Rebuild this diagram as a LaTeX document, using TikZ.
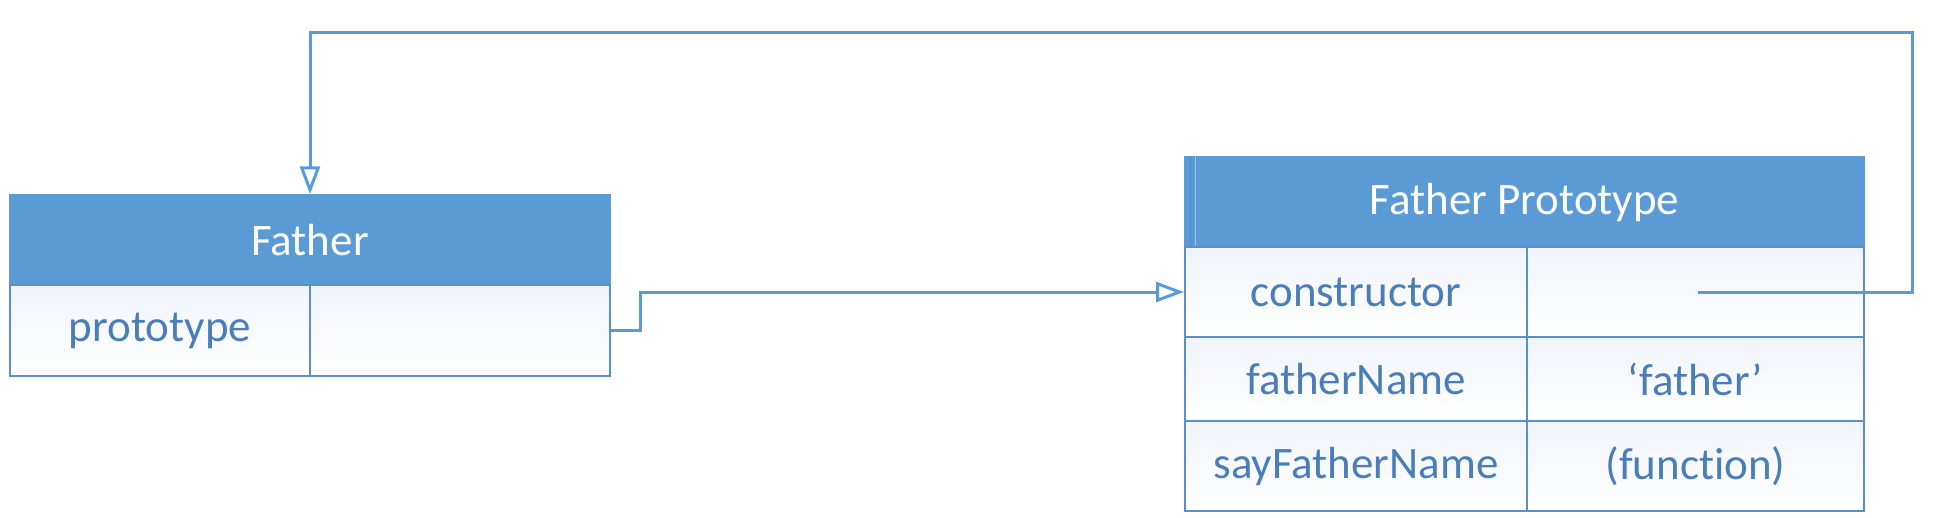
\documentclass[tikz,border=0pt]{standalone}
\usepackage{fontspec}
\setmainfont{Carlito}[Ligatures=NoCommon]
\usetikzlibrary{arrows.meta}
\definecolor{hdr}{HTML}{5B9BD5}
\definecolor{hdrdark}{HTML}{4F8CC9}
\definecolor{hdrlight}{HTML}{9DC3E6}
\definecolor{brd}{HTML}{5B8FC8}
\definecolor{txt}{HTML}{4A7EBB}
\definecolor{cellA}{HTML}{F0F4FA}
\tikzset{
  hdrbox/.style={rectangle, fill=hdr, draw=hdr, line width=1.5pt, inner sep=0pt,
    text=white, font=\fontsize{45}{54}\selectfont},
  cellbox/.style={rectangle, draw=brd, line width=2pt, inner sep=0pt,
    top color=cellA, bottom color=white, text=txt, font=\fontsize{45}{54}\selectfont},
  conn/.style={draw=hdr, line width=3pt,
    -{Triangle[open, length=28pt, width=20pt, line width=3pt]}}
}
\begin{document}
\begin{tikzpicture}[x=1pt,y=-1pt]
\useasboundingbox (0,0) rectangle (1945,517);
% Father
\node[hdrbox, minimum width=600pt, minimum height=90pt] (fh) at (310,240) {Father};
\node[cellbox, minimum width=300pt, minimum height=91pt] (fp) at (160,330.5) {prototype};
\node[cellbox, minimum width=300pt, minimum height=91pt] (fpv) at (460,330.5) {};
% Father Prototype
\node[hdrbox, minimum width=679pt, minimum height=90pt] (ph) at (1524.5,202) {Father Prototype};
\draw[hdrdark, line width=1.5pt] ([xshift=6pt]ph.north west) -- ([xshift=6pt]ph.south west);
\draw[hdrlight, line width=1.5pt] ([xshift=11pt]ph.north west) -- ([xshift=11pt]ph.south west);
\node[cellbox, minimum width=342pt, minimum height=90pt] (pc) at (1356,292) {constructor};
\node[cellbox, minimum width=337pt, minimum height=90pt] (pcv) at (1695.5,292) {};
\node[cellbox, minimum width=342pt, minimum height=84pt] (pf) at (1356,379) {fatherName};
\node[cellbox, minimum width=337pt, minimum height=84pt] (pfv) at (1695.5,379) {‘father’};
\node[cellbox, minimum width=342pt, minimum height=90pt] (ps) at (1356,466) {sayFatherName};
\node[cellbox, minimum width=337pt, minimum height=90pt] (psv) at (1695.5,466) {(function)};
% connectors
\draw[conn] (fpv.east) -- ++(29,0) |- (pc.west);
\coordinate (cstart) at (1698,292);
\draw[conn] (cstart) -| (1912,32) -| (fh.north);
\end{tikzpicture}
\end{document}
